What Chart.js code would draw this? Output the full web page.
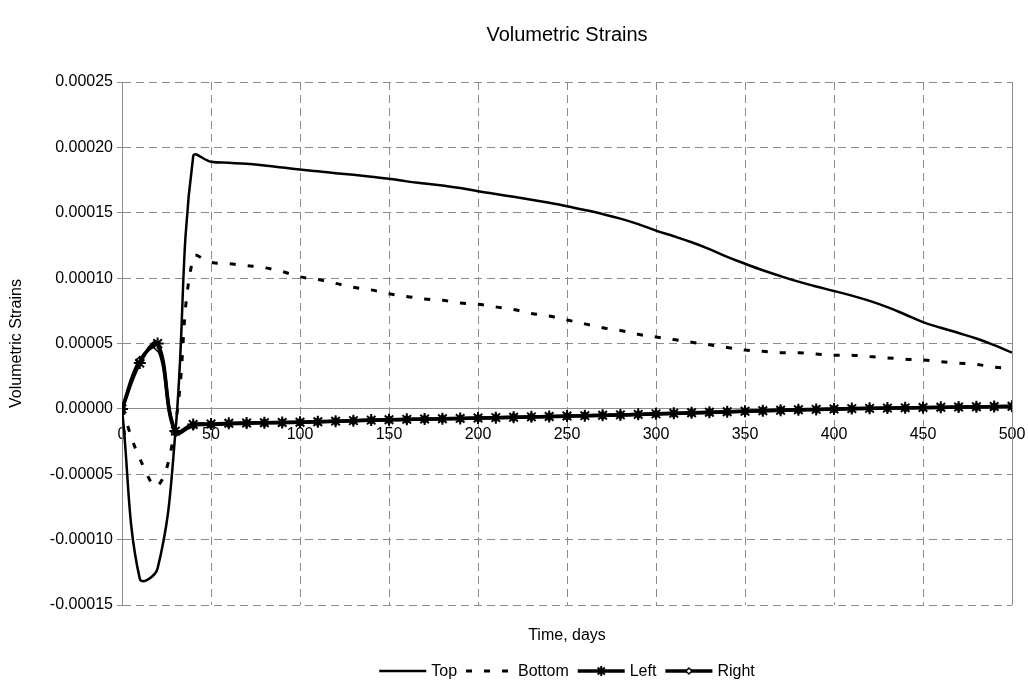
<!DOCTYPE html>
<html>
<head>
<meta charset="utf-8">
<script src="https://cdn.jsdelivr.net/npm/chart.js@4"></script>
<style>
  html, body { margin: 0; padding: 0; background: #fff; }
  #wrap { width: 1028px; height: 683px; position: relative; }
</style>
</head>
<body>
<div id="wrap"><canvas id="strains"></canvas></div>
<script>
// Time axis (days) and volumetric strain per boundary
const days = [0, 10, 20, 30, 40, 50, 60, 70, 80, 90, 100, 110, 120, 130, 140, 150, 160, 170, 180, 190, 200,
  210, 220, 230, 240, 250, 260, 270, 280, 290, 300, 310, 320, 330, 340, 350, 360, 370, 380, 390, 400,
  410, 420, 430, 440, 450, 460, 470, 480, 490, 500];

const topStrain = [0, -0.000130, -0.000122, -0.000018, 0.000193, 0.000189, 0.0001882, 0.0001874, 0.0001862, 0.0001846, 0.000183,
  0.0001818, 0.0001803, 0.000179, 0.0001775, 0.000176, 0.000174, 0.0001724, 0.0001708, 0.000169, 0.0001665,
  0.0001643, 0.0001622, 0.00016, 0.0001576, 0.000155, 0.0001521, 0.000149, 0.0001455, 0.0001413, 0.0001363,
  0.000132, 0.0001274, 0.0001222, 0.0001163, 0.000111, 0.000106, 0.0001015, 0.0000973, 0.0000936, 0.0000902,
  0.0000866, 0.0000826, 0.0000778, 0.0000722, 0.0000663, 0.000062, 0.000058, 0.0000538, 0.0000487, 0.0000431];

const bottomStrain = [0, -0.000038, -0.000059, -0.000012, 0.000116, 0.000112, 0.000111, 0.0001095, 0.000108, 0.000105, 0.000101,
  0.000099, 0.000096, 0.000093, 0.000091, 0.000088, 0.000086, 0.000084, 0.000083, 0.000081, 0.000080,
  0.000078, 0.000076, 0.000073, 0.000071, 0.000068, 0.000065, 0.000062, 0.000060, 0.000057, 0.000055,
  0.000053, 0.000051, 0.000049, 0.000047, 0.000045, 0.000044, 0.000043, 0.000043, 0.000042, 0.000041,
  0.000041, 0.000040, 0.000039, 0.000038, 0.0000375, 0.000036, 0.000035, 0.000034, 0.000032, 0.000031];

const leftStrain = [0, 0.000035, 0.000050, -0.000017, -0.000012, -0.0000115, -0.000011, -0.0000108, -0.0000106, -0.0000104, -0.0000102,
  -0.0000098, -0.0000094, -0.000009, -0.0000086, -0.0000083, -0.000008, -0.0000078, -0.0000075, -0.0000073, -0.000007,
  -0.0000067, -0.0000064, -0.0000061, -0.0000058, -0.0000055, -0.0000052, -0.0000049, -0.0000046, -0.0000042, -0.0000038,
  -0.0000034, -0.000003, -0.0000026, -0.0000022, -0.0000018, -0.0000014, -0.000001, -0.0000007, -0.0000004, -0.0000001,
  0.0000002, 0.0000004, 0.0000006, 0.0000008, 0.000001, 0.0000012, 0.0000014, 0.0000016, 0.0000018, 0.000002];

const rightStrain = [0, 0.000037, 0.000047, -0.000018, -0.0000125, -0.000012, -0.0000113, -0.000011, -0.0000107, -0.0000105, -0.0000103,
  -0.0000099, -0.0000095, -0.0000091, -0.0000087, -0.0000084, -0.0000081, -0.0000079, -0.0000076, -0.0000074, -0.0000071,
  -0.0000068, -0.0000065, -0.0000062, -0.0000059, -0.0000056, -0.0000053, -0.000005, -0.0000047, -0.0000043, -0.0000039,
  -0.0000035, -0.0000031, -0.0000027, -0.0000023, -0.0000019, -0.0000015, -0.0000011, -0.0000008, -0.0000005, -0.0000002,
  0.0000001, 0.0000003, 0.0000005, 0.0000007, 0.0000009, 0.0000011, 0.0000013, 0.0000015, 0.0000017, 0.0000019];

const seriesNames = ['Top', 'Bottom', 'Left', 'Right'];
const xTickStep = 50;
const yTickStep = 0.00005;

const FONT = '"Liberation Sans", Arial, sans-serif';
const gridColor = '#8c8c8c';
const axisColor = '#8c8c8c';

function toPoints(values) {
  return days.map((d, i) => ({ x: d, y: values[i] }));
}

// Legend, x-axis caption and right frame edge drawn straight onto the canvas
const chartExtras = {
  id: 'chartExtras',
  afterDraw(chart) {
    const { ctx, chartArea } = chart;
    const cx = (chartArea.left + chartArea.right) / 2;

    ctx.save();
    ctx.strokeStyle = axisColor;
    ctx.lineWidth = 1;
    ctx.beginPath();
    ctx.moveTo(Math.round(chartArea.right) + 0.5, chartArea.top);
    ctx.lineTo(Math.round(chartArea.right) + 0.5, chartArea.bottom);
    ctx.stroke();

    ctx.fillStyle = '#000';
    ctx.font = '16px ' + FONT;
    ctx.textAlign = 'center';
    ctx.textBaseline = 'middle';
    ctx.fillText('Time, days', cx, 636);

    // legend row
    const sampleLen = 47, textGap = 5, itemGap = 9, ly = 671;
    ctx.textAlign = 'left';
    const sets = chart.data.datasets;
    const widths = sets.map(ds => sampleLen + textGap + ctx.measureText(ds.label).width);
    const total = widths.reduce((a, b) => a + b, 0) + itemGap * (sets.length - 1);
    let x = cx - total / 2;
    sets.forEach((ds, i) => {
      ctx.save();
      ctx.strokeStyle = ds.borderColor;
      ctx.lineWidth = ds.borderWidth;
      ctx.setLineDash(ds.borderDash || []);
      ctx.beginPath();
      ctx.moveTo(x, ly);
      ctx.lineTo(x + sampleLen, ly);
      ctx.stroke();
      ctx.restore();
      if (ds.pointRadius > 0) {
        ctx.save();
        ctx.strokeStyle = ds.pointBorderColor;
        ctx.fillStyle = ds.pointBackgroundColor;
        ctx.lineWidth = ds.pointBorderWidth;
        Chart.helpers.drawPoint(ctx, {
          pointStyle: ds.pointStyle, rotation: 0,
          radius: ds.pointRadius - 1, borderWidth: ds.pointBorderWidth
        }, x + sampleLen / 2, ly);
        ctx.restore();
      }
      ctx.fillStyle = '#000';
      ctx.fillText(ds.label, x + sampleLen + textGap, ly + 1);
      x += widths[i] + itemGap;
    });
    ctx.restore();
  }
};

new Chart(document.getElementById('strains'), {
  type: 'line',
  data: {
    datasets: [
      {
        label: seriesNames[0],
        data: toPoints(topStrain),
        borderColor: '#000',
        borderWidth: 2.5,
        pointRadius: 0,
        tension: 0.4
      },
      {
        label: seriesNames[1],
        data: toPoints(bottomStrain),
        borderColor: '#000',
        borderWidth: 3,
        borderDash: [6, 12],
        pointRadius: 0,
        tension: 0.4
      },
      {
        label: seriesNames[2],
        data: toPoints(leftStrain),
        borderColor: '#000',
        borderWidth: 3.5,
        pointStyle: 'star',
        pointRadius: 6,
        pointBorderWidth: 2,
        pointBorderColor: '#000',
        pointBackgroundColor: '#000',
        tension: 0.4
      },
      {
        label: seriesNames[3],
        data: toPoints(rightStrain),
        borderColor: '#000',
        borderWidth: 3.5,
        pointStyle: 'rectRot',
        pointRadius: 4,
        pointBorderWidth: 1.5,
        pointBorderColor: '#000',
        pointBackgroundColor: '#fff',
        tension: 0.4
      }
    ]
  },
  options: {
    responsive: true,
    maintainAspectRatio: false,
    animation: false,
    layout: { padding: { left: 0, right: 16, top: 0, bottom: 78 } },
    plugins: {
      legend: { display: false },
      tooltip: { enabled: false },
      title: {
        display: true,
        fullSize: false,
        text: 'Volumetric Strains',
        color: '#000',
        font: { family: FONT, size: 20, weight: 'normal' },
        padding: { top: 23, bottom: 35 }
      }
    },
    scales: {
      x: {
        type: 'linear',
        position: { y: 0 },
        min: 0,
        max: 500,
        // end labels may hang over the frame without shrinking the plot
        afterFit(scale) { scale.paddingLeft = 0; scale.paddingRight = 0; },
        grid: { color: gridColor, lineWidth: 1, tickLength: 5, tickColor: axisColor },
        border: { display: true, color: axisColor, width: 1, dash: [8, 5] },
        ticks: {
          stepSize: xTickStep,
          maxRotation: 0,
          autoSkip: false,
          padding: 11,
          color: '#000',
          font: { family: FONT, size: 16 }
        }
      },
      y: {
        min: -0.00015,
        max: 0.00025,
        afterFit(scale) { scale.width = 122; },
        grid: { color: gridColor, lineWidth: 1, tickLength: 5, tickColor: axisColor },
        border: { display: true, color: axisColor, width: 1, dash: [8, 5] },
        title: {
          display: true,
          text: 'Volumetric Strains',
          color: '#000',
          font: { family: FONT, size: 16 },
          padding: { top: 7, bottom: 0 }
        },
        ticks: {
          stepSize: yTickStep,
          padding: 4,
          color: '#000',
          font: { family: FONT, size: 16 },
          callback: v => (Math.abs(v) < 1e-12 ? 0 : v).toFixed(5)
        }
      }
    }
  },
  plugins: [chartExtras]
});
</script>
</body>
</html>
